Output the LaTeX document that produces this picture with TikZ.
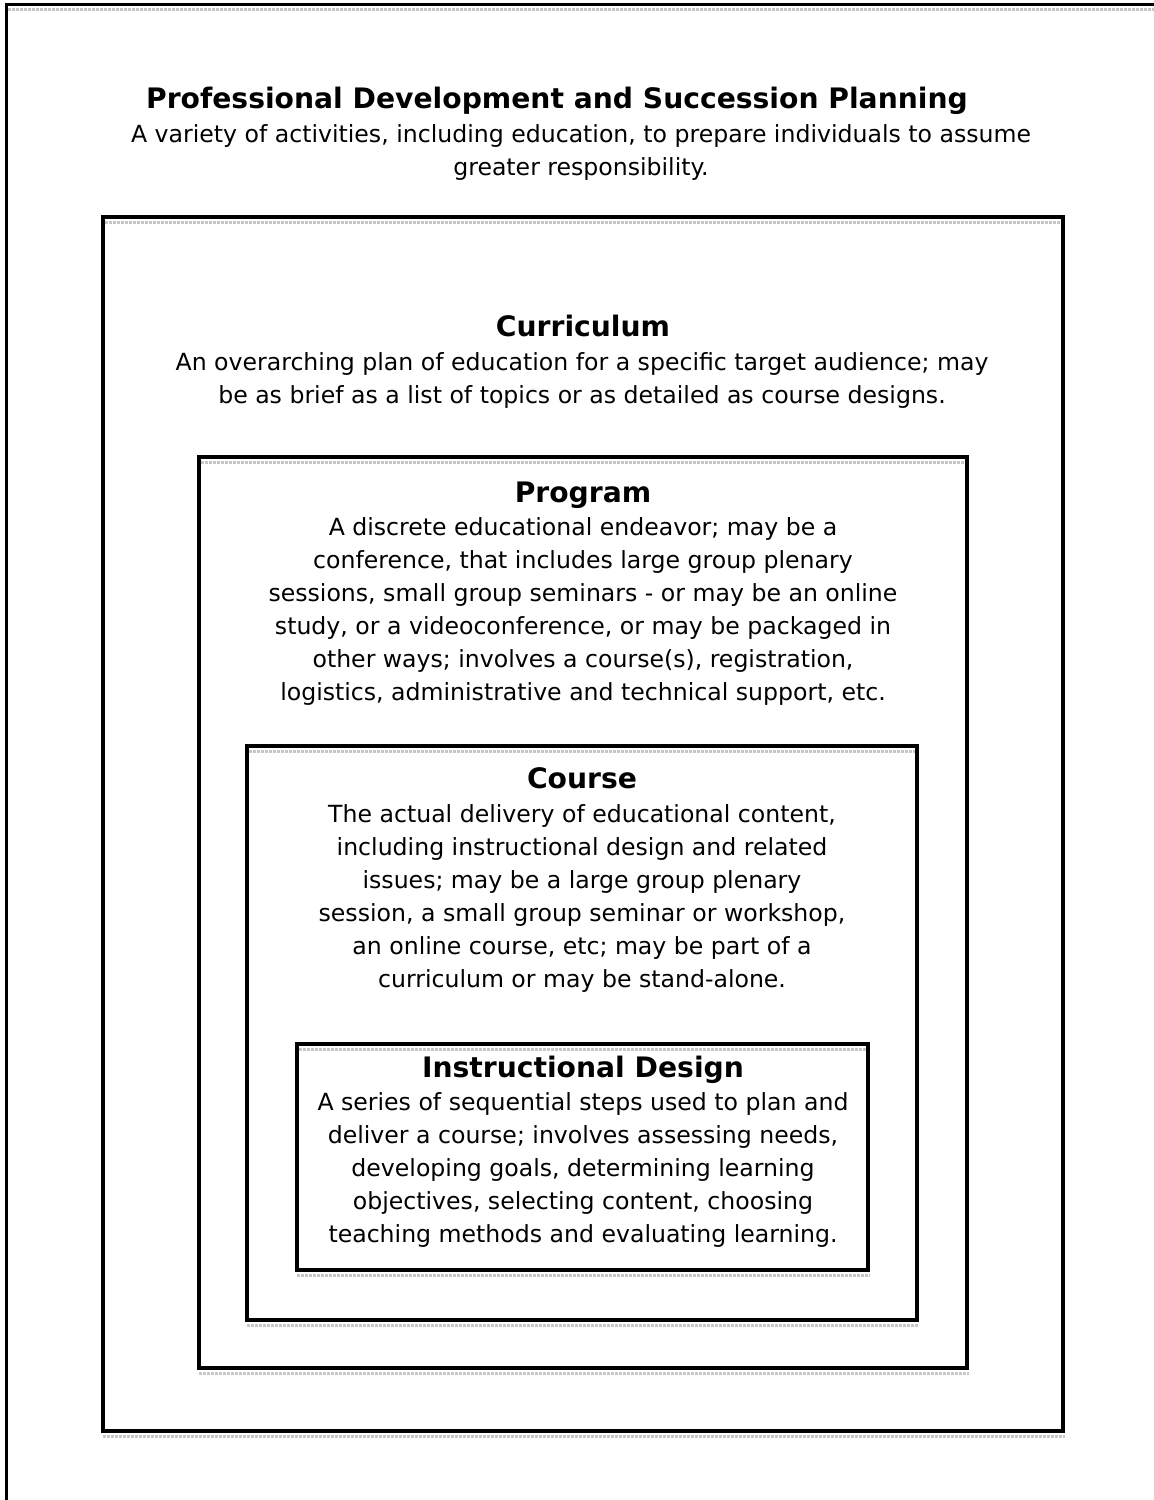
\documentclass[tikz,border=0pt]{standalone}
\usepackage{fontspec}
\setmainfont{DejaVu Sans}
\usetikzlibrary{positioning}

\tikzset{
  frame/.style={draw=black, line width=2pt},
  shadeline/.style={draw=black!22, line width=1.5pt, dash pattern=on 1.5pt off 0.5pt},
  head/.style={font=\fontsize{14.1}{17}\selectfont\bfseries, inner sep=0pt, anchor=base},
  desc/.style={font=\fontsize{11.8}{16.5}\selectfont, align=center, inner sep=0pt, anchor=north},
}

\begin{document}
\begin{tikzpicture}[x=0.5pt, y=-0.5pt]
  \useasboundingbox (0,0) rectangle (1154,1500);

  % outer page frame, cut off at right and bottom
  \draw[line width=1.5pt] (6.5,1520) -- (6.5,4) -- (1170,4);
  \draw[shadeline] (8,9) -- (1170,9);

  % nested boxes
  \draw[frame] (103,217) rectangle (1063,1431);
  \draw[shadeline] (105,222) -- (1061,222);
  \draw[shadeline] (103,1436) -- (1065,1436);

  \draw[frame] (199,457) rectangle (967,1368);
  \draw[shadeline] (201,462) -- (965,462);
  \draw[shadeline] (199,1373) -- (969,1373);

  \draw[frame] (247,746) rectangle (917,1320);
  \draw[shadeline] (249,751) -- (915,751);
  \draw[shadeline] (247,1325) -- (919,1325);

  \draw[frame] (297,1044) rectangle (868,1270);
  \draw[shadeline] (299,1049) -- (866,1049);
  \draw[shadeline] (297,1275) -- (870,1275);

  % texts
  \node[head] (pdTitle) at (557,108) {Professional Development and Succession Planning};
  \node[desc] (pdText) at (581,124) {A variety of activities, including education, to prepare individuals to assume\\ greater responsibility.};

  \node[head] (curTitle) at (583,336) {Curriculum};
  \node[desc] (curText) at (582,352) {An overarching plan of education for a specific target audience; may\\ be as brief as a list of topics or as detailed as course designs.};

  \node[head] (progTitle) at (583,502) {Program};
  \node[desc] (progText) at (583,517) {A discrete educational endeavor; may be a\\ conference, that includes large group plenary\\ sessions, small group seminars - or may be an online\\ study, or a videoconference, or may be packaged in\\ other ways; involves a course(s), registration,\\ logistics, administrative and technical support, etc.};

  \node[head] (crsTitle) at (582,788) {Course};
  \node[desc] (crsText) at (582,804) {The actual delivery of educational content,\\ including instructional design and related\\ issues; may be a large group plenary\\ session, a small group seminar or workshop,\\ an online course, etc; may be part of a\\ curriculum or may be stand-alone.};

  \node[head] (idTitle) at (583,1077) {Instructional Design};
  \node[desc] (idText) at (583,1092) {A series of sequential steps used to plan and\\ deliver a course; involves assessing needs,\\ developing goals, determining learning\\ objectives, selecting content, choosing\\ teaching methods and evaluating learning.};
\end{tikzpicture}
\end{document}
